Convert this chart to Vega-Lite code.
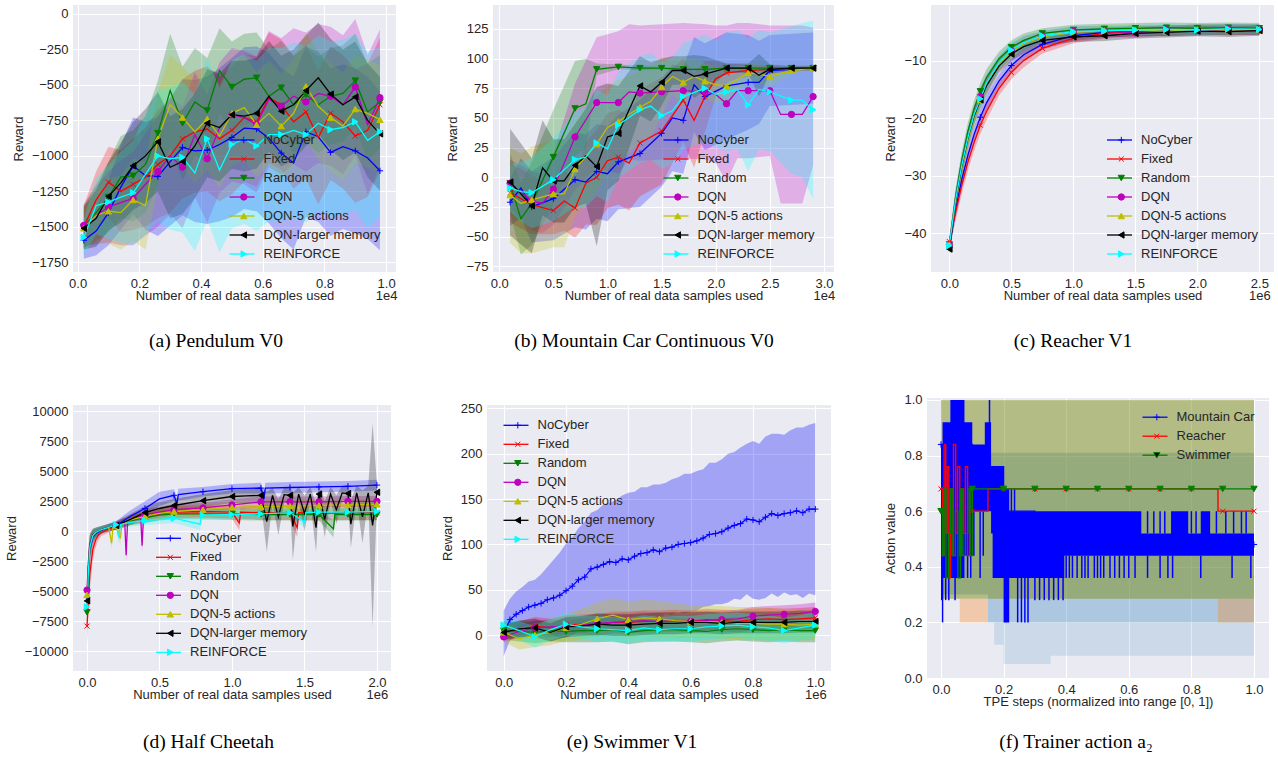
{
"$schema":"https://vega.github.io/schema/vega-lite/v6.json",
"background":"white",
"padding":{"left":5,"top":5,"right":0,"bottom":0},
"autosize":{"type":"pad"},
"bounds":"flush",
"spacing":393,
"config":{
 "font":"Liberation Sans",
 "view":{"fill":"#EAEAF2","stroke":null},
 "axis":{"domain":false,"ticks":false,"gridColor":"#ffffff","gridWidth":1.1,"gridOpacity":1,"labelFont":"Liberation Sans","labelFontSize":13,"labelColor":"#262626","labelPadding":5,"labelFlush":false,"labelOverlap":false,"titleFont":"Liberation Sans","titleFontSize":13,"titleFontWeight":"normal","titleColor":"#262626"},
 "axisX":{"titleY":23,"titleBaseline":"middle","labelLineHeight":12},
 "axisY":{"titlePadding":6},
 "legend":{"labelFont":"Liberation Sans","labelFontSize":13,"labelColor":"#262626","padding":0,"rowPadding":5,"symbolOpacity":1},
 "title":{"font":"Liberation Serif","fontSize":19.5,"fontWeight":"normal","color":"#000000","orient":"bottom","frame":"group","anchor":"middle"}
},
"resolve":{"scale":{"x":"independent","y":"independent","color":"independent","fill":"independent","stroke":"independent","shape":"independent"},"legend":{"color":"independent","fill":"independent","stroke":"independent","shape":"independent"}},
"datasets":{
"pa":[
{"s":"NoCyber","x":0.02,"y":-1595,"e":130},{"s":"NoCyber","x":0.06,"y":-1530,"e":170},{"s":"NoCyber","x":0.1,"y":-1400,"e":230},{"s":"NoCyber","x":0.14,"y":-1220,"e":300},{"s":"NoCyber","x":0.18,"y":-1070,"e":340},{"s":"NoCyber","x":0.22,"y":-1140,"e":380},{"s":"NoCyber","x":0.26,"y":-1145,"e":420},{"s":"NoCyber","x":0.3,"y":-1040,"e":450},{"s":"NoCyber","x":0.34,"y":-940,"e":480},{"s":"NoCyber","x":0.38,"y":-965,"e":500},{"s":"NoCyber","x":0.42,"y":-960,"e":520},{"s":"NoCyber","x":0.46,"y":-920,"e":540},{"s":"NoCyber","x":0.5,"y":-870,"e":560},{"s":"NoCyber","x":0.54,"y":-805,"e":570},{"s":"NoCyber","x":0.58,"y":-810,"e":580},{"s":"NoCyber","x":0.62,"y":-875,"e":600},{"s":"NoCyber","x":0.66,"y":-980,"e":600},{"s":"NoCyber","x":0.7,"y":-1050,"e":610},{"s":"NoCyber","x":0.74,"y":-830,"e":600},{"s":"NoCyber","x":0.78,"y":-865,"e":600},{"s":"NoCyber","x":0.82,"y":-975,"e":590},{"s":"NoCyber","x":0.86,"y":-935,"e":580},{"s":"NoCyber","x":0.9,"y":-965,"e":580},{"s":"NoCyber","x":0.94,"y":-1015,"e":570},{"s":"NoCyber","x":0.98,"y":-1105,"e":560},
{"s":"Fixed","x":0.02,"y":-1500,"e":150},{"s":"Fixed","x":0.06,"y":-1310,"e":200},{"s":"Fixed","x":0.1,"y":-1185,"e":250},{"s":"Fixed","x":0.14,"y":-1250,"e":290},{"s":"Fixed","x":0.18,"y":-1200,"e":320},{"s":"Fixed","x":0.22,"y":-1150,"e":350},{"s":"Fixed","x":0.26,"y":-1060,"e":380},{"s":"Fixed","x":0.3,"y":-1000,"e":400},{"s":"Fixed","x":0.34,"y":-880,"e":420},{"s":"Fixed","x":0.38,"y":-830,"e":430},{"s":"Fixed","x":0.42,"y":-810,"e":440},{"s":"Fixed","x":0.46,"y":-880,"e":440},{"s":"Fixed","x":0.5,"y":-820,"e":450},{"s":"Fixed","x":0.54,"y":-730,"e":450},{"s":"Fixed","x":0.58,"y":-760,"e":460},{"s":"Fixed","x":0.62,"y":-590,"e":460},{"s":"Fixed","x":0.66,"y":-640,"e":460},{"s":"Fixed","x":0.7,"y":-760,"e":470},{"s":"Fixed","x":0.74,"y":-690,"e":470},{"s":"Fixed","x":0.78,"y":-870,"e":470},{"s":"Fixed","x":0.82,"y":-700,"e":470},{"s":"Fixed","x":0.86,"y":-760,"e":470},{"s":"Fixed","x":0.9,"y":-860,"e":470},{"s":"Fixed","x":0.94,"y":-820,"e":470},{"s":"Fixed","x":0.98,"y":-640,"e":470},
{"s":"Random","x":0.02,"y":-1500,"e":150},{"s":"Random","x":0.06,"y":-1400,"e":200},{"s":"Random","x":0.1,"y":-1290,"e":250},{"s":"Random","x":0.14,"y":-1150,"e":290},{"s":"Random","x":0.18,"y":-1140,"e":320},{"s":"Random","x":0.22,"y":-1060,"e":340},{"s":"Random","x":0.26,"y":-840,"e":370},{"s":"Random","x":0.3,"y":-540,"e":400},{"s":"Random","x":0.34,"y":-770,"e":400},{"s":"Random","x":0.38,"y":-620,"e":380},{"s":"Random","x":0.42,"y":-680,"e":370},{"s":"Random","x":0.46,"y":-400,"e":300},{"s":"Random","x":0.5,"y":-515,"e":320},{"s":"Random","x":0.54,"y":-460,"e":320},{"s":"Random","x":0.58,"y":-450,"e":320},{"s":"Random","x":0.62,"y":-580,"e":330},{"s":"Random","x":0.66,"y":-520,"e":330},{"s":"Random","x":0.7,"y":-640,"e":340},{"s":"Random","x":0.74,"y":-570,"e":340},{"s":"Random","x":0.78,"y":-640,"e":340},{"s":"Random","x":0.82,"y":-580,"e":340},{"s":"Random","x":0.86,"y":-560,"e":340},{"s":"Random","x":0.9,"y":-470,"e":330},{"s":"Random","x":0.94,"y":-690,"e":340},{"s":"Random","x":0.98,"y":-620,"e":330},
{"s":"DQN","x":0.02,"y":-1490,"e":150},{"s":"DQN","x":0.06,"y":-1420,"e":200},{"s":"DQN","x":0.1,"y":-1360,"e":250},{"s":"DQN","x":0.14,"y":-1330,"e":300},{"s":"DQN","x":0.18,"y":-1300,"e":330},{"s":"DQN","x":0.22,"y":-1200,"e":360},{"s":"DQN","x":0.26,"y":-1110,"e":390},{"s":"DQN","x":0.3,"y":-1000,"e":410},{"s":"DQN","x":0.34,"y":-1080,"e":430},{"s":"DQN","x":0.38,"y":-850,"e":440},{"s":"DQN","x":0.42,"y":-1020,"e":450},{"s":"DQN","x":0.46,"y":-800,"e":460},{"s":"DQN","x":0.5,"y":-710,"e":470},{"s":"DQN","x":0.54,"y":-730,"e":470},{"s":"DQN","x":0.58,"y":-780,"e":480},{"s":"DQN","x":0.62,"y":-600,"e":480},{"s":"DQN","x":0.66,"y":-650,"e":480},{"s":"DQN","x":0.7,"y":-580,"e":480},{"s":"DQN","x":0.74,"y":-620,"e":490},{"s":"DQN","x":0.78,"y":-560,"e":490},{"s":"DQN","x":0.82,"y":-580,"e":490},{"s":"DQN","x":0.86,"y":-640,"e":490},{"s":"DQN","x":0.9,"y":-515,"e":480},{"s":"DQN","x":0.94,"y":-780,"e":490},{"s":"DQN","x":0.98,"y":-590,"e":480},
{"s":"DQN-5 actions","x":0.02,"y":-1510,"e":150},{"s":"DQN-5 actions","x":0.06,"y":-1420,"e":190},{"s":"DQN-5 actions","x":0.1,"y":-1390,"e":230},{"s":"DQN-5 actions","x":0.14,"y":-1400,"e":260},{"s":"DQN-5 actions","x":0.18,"y":-1310,"e":290},{"s":"DQN-5 actions","x":0.22,"y":-1350,"e":310},{"s":"DQN-5 actions","x":0.26,"y":-880,"e":330},{"s":"DQN-5 actions","x":0.3,"y":-640,"e":350},{"s":"DQN-5 actions","x":0.34,"y":-730,"e":360},{"s":"DQN-5 actions","x":0.38,"y":-830,"e":360},{"s":"DQN-5 actions","x":0.42,"y":-740,"e":360},{"s":"DQN-5 actions","x":0.46,"y":-860,"e":370},{"s":"DQN-5 actions","x":0.5,"y":-700,"e":370},{"s":"DQN-5 actions","x":0.54,"y":-660,"e":370},{"s":"DQN-5 actions","x":0.58,"y":-780,"e":370},{"s":"DQN-5 actions","x":0.62,"y":-700,"e":370},{"s":"DQN-5 actions","x":0.66,"y":-790,"e":370},{"s":"DQN-5 actions","x":0.7,"y":-700,"e":380},{"s":"DQN-5 actions","x":0.74,"y":-510,"e":380},{"s":"DQN-5 actions","x":0.78,"y":-650,"e":380},{"s":"DQN-5 actions","x":0.82,"y":-730,"e":380},{"s":"DQN-5 actions","x":0.86,"y":-790,"e":380},{"s":"DQN-5 actions","x":0.9,"y":-670,"e":380},{"s":"DQN-5 actions","x":0.94,"y":-700,"e":380},{"s":"DQN-5 actions","x":0.98,"y":-745,"e":380},
{"s":"DQN-larger memory","x":0.02,"y":-1510,"e":150},{"s":"DQN-larger memory","x":0.06,"y":-1440,"e":200},{"s":"DQN-larger memory","x":0.1,"y":-1285,"e":240},{"s":"DQN-larger memory","x":0.14,"y":-1190,"e":280},{"s":"DQN-larger memory","x":0.18,"y":-1070,"e":310},{"s":"DQN-larger memory","x":0.22,"y":-1000,"e":330},{"s":"DQN-larger memory","x":0.26,"y":-900,"e":350},{"s":"DQN-larger memory","x":0.3,"y":-1080,"e":360},{"s":"DQN-larger memory","x":0.34,"y":-1040,"e":370},{"s":"DQN-larger memory","x":0.38,"y":-930,"e":370},{"s":"DQN-larger memory","x":0.42,"y":-770,"e":380},{"s":"DQN-larger memory","x":0.46,"y":-800,"e":380},{"s":"DQN-larger memory","x":0.5,"y":-710,"e":380},{"s":"DQN-larger memory","x":0.54,"y":-720,"e":390},{"s":"DQN-larger memory","x":0.58,"y":-700,"e":390},{"s":"DQN-larger memory","x":0.62,"y":-580,"e":390},{"s":"DQN-larger memory","x":0.66,"y":-685,"e":390},{"s":"DQN-larger memory","x":0.7,"y":-640,"e":390},{"s":"DQN-larger memory","x":0.74,"y":-540,"e":390},{"s":"DQN-larger memory","x":0.78,"y":-450,"e":390},{"s":"DQN-larger memory","x":0.82,"y":-565,"e":390},{"s":"DQN-larger memory","x":0.86,"y":-640,"e":390},{"s":"DQN-larger memory","x":0.9,"y":-585,"e":390},{"s":"DQN-larger memory","x":0.94,"y":-750,"e":400},{"s":"DQN-larger memory","x":0.98,"y":-845,"e":400},
{"s":"REINFORCE","x":0.02,"y":-1575,"e":130},{"s":"REINFORCE","x":0.06,"y":-1350,"e":200},{"s":"REINFORCE","x":0.1,"y":-1325,"e":260},{"s":"REINFORCE","x":0.14,"y":-1290,"e":320},{"s":"REINFORCE","x":0.18,"y":-1260,"e":370},{"s":"REINFORCE","x":0.22,"y":-1130,"e":420},{"s":"REINFORCE","x":0.26,"y":-1000,"e":460},{"s":"REINFORCE","x":0.3,"y":-1020,"e":500},{"s":"REINFORCE","x":0.34,"y":-1010,"e":530},{"s":"REINFORCE","x":0.38,"y":-1120,"e":550},{"s":"REINFORCE","x":0.42,"y":-880,"e":570},{"s":"REINFORCE","x":0.46,"y":-1100,"e":580},{"s":"REINFORCE","x":0.5,"y":-920,"e":590},{"s":"REINFORCE","x":0.54,"y":-880,"e":600},{"s":"REINFORCE","x":0.58,"y":-930,"e":600},{"s":"REINFORCE","x":0.62,"y":-850,"e":610},{"s":"REINFORCE","x":0.66,"y":-850,"e":610},{"s":"REINFORCE","x":0.7,"y":-820,"e":620},{"s":"REINFORCE","x":0.74,"y":-850,"e":620},{"s":"REINFORCE","x":0.78,"y":-770,"e":620},{"s":"REINFORCE","x":0.82,"y":-815,"e":620},{"s":"REINFORCE","x":0.86,"y":-800,"e":620},{"s":"REINFORCE","x":0.9,"y":-760,"e":620},{"s":"REINFORCE","x":0.94,"y":-890,"e":620},{"s":"REINFORCE","x":0.98,"y":-830,"e":600}
],
"pb":[
{"s":"NoCyber","x":0.1,"y":-21,"e":20},{"s":"NoCyber","x":0.2,"y":-9,"e":25},{"s":"NoCyber","x":0.3,"y":-25,"e":30},{"s":"NoCyber","x":0.5,"y":-18,"e":35},{"s":"NoCyber","x":0.7,"y":-2,"e":40},{"s":"NoCyber","x":0.8,"y":-4,"e":40},{"s":"NoCyber","x":0.9,"y":5,"e":40},{"s":"NoCyber","x":1.0,"y":3,"e":40},{"s":"NoCyber","x":1.1,"y":13,"e":40},{"s":"NoCyber","x":1.3,"y":20,"e":45},{"s":"NoCyber","x":1.5,"y":37,"e":45},{"s":"NoCyber","x":1.6,"y":50,"e":45},{"s":"NoCyber","x":1.7,"y":48,"e":45},{"s":"NoCyber","x":1.8,"y":78,"e":40},{"s":"NoCyber","x":1.9,"y":68,"e":45},{"s":"NoCyber","x":2.1,"y":77,"e":45},{"s":"NoCyber","x":2.3,"y":80,"e":40},{"s":"NoCyber","x":2.4,"y":80,"e":35},{"s":"NoCyber","x":2.5,"y":90,"e":30},{"s":"NoCyber","x":2.7,"y":91,"e":30},{"s":"NoCyber","x":2.9,"y":92,"e":30},
{"s":"Fixed","x":0.1,"y":-13,"e":25},{"s":"Fixed","x":0.3,"y":-23,"e":25},{"s":"Fixed","x":0.5,"y":-28,"e":20},{"s":"Fixed","x":0.6,"y":-20,"e":25},{"s":"Fixed","x":0.7,"y":-26,"e":25},{"s":"Fixed","x":0.8,"y":-5,"e":35},{"s":"Fixed","x":0.9,"y":0,"e":40},{"s":"Fixed","x":1.0,"y":14,"e":40},{"s":"Fixed","x":1.1,"y":17,"e":40},{"s":"Fixed","x":1.2,"y":12,"e":40},{"s":"Fixed","x":1.3,"y":29,"e":45},{"s":"Fixed","x":1.5,"y":39,"e":45},{"s":"Fixed","x":1.6,"y":52,"e":40},{"s":"Fixed","x":1.7,"y":65,"e":35},{"s":"Fixed","x":1.8,"y":48,"e":40},{"s":"Fixed","x":1.9,"y":68,"e":30},{"s":"Fixed","x":2.0,"y":83,"e":15},{"s":"Fixed","x":2.1,"y":88,"e":8},{"s":"Fixed","x":2.3,"y":90,"e":5},{"s":"Fixed","x":2.5,"y":91,"e":3},{"s":"Fixed","x":2.7,"y":91,"e":2},{"s":"Fixed","x":2.9,"y":92,"e":2},
{"s":"Random","x":0.1,"y":-5,"e":25},{"s":"Random","x":0.2,"y":-35,"e":30},{"s":"Random","x":0.3,"y":-22,"e":35},{"s":"Random","x":0.5,"y":17,"e":40},{"s":"Random","x":0.7,"y":58,"e":40},{"s":"Random","x":0.8,"y":62,"e":38},{"s":"Random","x":0.9,"y":91,"e":5},{"s":"Random","x":1.1,"y":93,"e":2},{"s":"Random","x":1.3,"y":92,"e":2},{"s":"Random","x":1.5,"y":92,"e":1},{"s":"Random","x":1.7,"y":91,"e":1},{"s":"Random","x":1.9,"y":91,"e":1},{"s":"Random","x":2.1,"y":92,"e":1},{"s":"Random","x":2.3,"y":92,"e":1},{"s":"Random","x":2.5,"y":92,"e":1},{"s":"Random","x":2.7,"y":92,"e":1},{"s":"Random","x":2.9,"y":92,"e":1},
{"s":"DQN","x":0.1,"y":-5,"e":20},{"s":"DQN","x":0.3,"y":-20,"e":25},{"s":"DQN","x":0.4,"y":-22,"e":25},{"s":"DQN","x":0.5,"y":-10,"e":30},{"s":"DQN","x":0.7,"y":34,"e":45},{"s":"DQN","x":0.9,"y":63,"e":55},{"s":"DQN","x":1.1,"y":63,"e":60},{"s":"DQN","x":1.2,"y":72,"e":57},{"s":"DQN","x":1.3,"y":71,"e":57},{"s":"DQN","x":1.5,"y":72,"e":57},{"s":"DQN","x":1.7,"y":73,"e":57},{"s":"DQN","x":1.9,"y":72,"e":57},{"s":"DQN","x":2.0,"y":70,"e":58},{"s":"DQN","x":2.1,"y":62,"e":66},{"s":"DQN","x":2.2,"y":73,"e":57},{"s":"DQN","x":2.3,"y":73,"e":57},{"s":"DQN","x":2.5,"y":73,"e":55},{"s":"DQN","x":2.6,"y":53,"e":75},{"s":"DQN","x":2.7,"y":53,"e":75},{"s":"DQN","x":2.8,"y":53,"e":75},{"s":"DQN","x":2.9,"y":68,"e":58},
{"s":"DQN-5 actions","x":0.1,"y":-15,"e":40},{"s":"DQN-5 actions","x":0.2,"y":-22,"e":42},{"s":"DQN-5 actions","x":0.3,"y":-19,"e":45},{"s":"DQN-5 actions","x":0.5,"y":-14,"e":45},{"s":"DQN-5 actions","x":0.6,"y":-14,"e":45},{"s":"DQN-5 actions","x":0.7,"y":7,"e":40},{"s":"DQN-5 actions","x":0.9,"y":28,"e":40},{"s":"DQN-5 actions","x":1.0,"y":42,"e":35},{"s":"DQN-5 actions","x":1.1,"y":47,"e":35},{"s":"DQN-5 actions","x":1.3,"y":59,"e":30},{"s":"DQN-5 actions","x":1.4,"y":64,"e":30},{"s":"DQN-5 actions","x":1.5,"y":76,"e":25},{"s":"DQN-5 actions","x":1.6,"y":85,"e":15},{"s":"DQN-5 actions","x":1.7,"y":80,"e":20},{"s":"DQN-5 actions","x":1.8,"y":85,"e":15},{"s":"DQN-5 actions","x":1.9,"y":81,"e":15},{"s":"DQN-5 actions","x":2.0,"y":78,"e":15},{"s":"DQN-5 actions","x":2.1,"y":77,"e":15},{"s":"DQN-5 actions","x":2.3,"y":88,"e":8},{"s":"DQN-5 actions","x":2.4,"y":87,"e":8},{"s":"DQN-5 actions","x":2.5,"y":85,"e":8},{"s":"DQN-5 actions","x":2.7,"y":90,"e":3},{"s":"DQN-5 actions","x":2.9,"y":92,"e":2},
{"s":"DQN-larger memory","x":0.1,"y":-4,"e":45},{"s":"DQN-larger memory","x":0.3,"y":-24,"e":40},{"s":"DQN-larger memory","x":0.4,"y":8,"e":40},{"s":"DQN-larger memory","x":0.5,"y":-3,"e":35},{"s":"DQN-larger memory","x":0.6,"y":-3,"e":35},{"s":"DQN-larger memory","x":0.7,"y":10,"e":35},{"s":"DQN-larger memory","x":0.8,"y":18,"e":40},{"s":"DQN-larger memory","x":0.9,"y":9,"e":67},{"s":"DQN-larger memory","x":1.0,"y":34,"e":45},{"s":"DQN-larger memory","x":1.1,"y":37,"e":40},{"s":"DQN-larger memory","x":1.3,"y":77,"e":25},{"s":"DQN-larger memory","x":1.4,"y":72,"e":25},{"s":"DQN-larger memory","x":1.5,"y":80,"e":20},{"s":"DQN-larger memory","x":1.6,"y":90,"e":12},{"s":"DQN-larger memory","x":1.7,"y":90,"e":12},{"s":"DQN-larger memory","x":1.8,"y":85,"e":18},{"s":"DQN-larger memory","x":1.9,"y":87,"e":15},{"s":"DQN-larger memory","x":2.1,"y":92,"e":4},{"s":"DQN-larger memory","x":2.3,"y":92,"e":4},{"s":"DQN-larger memory","x":2.4,"y":86,"e":18},{"s":"DQN-larger memory","x":2.5,"y":91,"e":4},{"s":"DQN-larger memory","x":2.7,"y":92,"e":2},{"s":"DQN-larger memory","x":2.9,"y":92,"e":2},
{"s":"REINFORCE","x":0.1,"y":-9,"e":20},{"s":"REINFORCE","x":0.2,"y":-12,"e":25},{"s":"REINFORCE","x":0.3,"y":-13,"e":30},{"s":"REINFORCE","x":0.5,"y":-2,"e":35},{"s":"REINFORCE","x":0.7,"y":15,"e":40},{"s":"REINFORCE","x":0.8,"y":17,"e":42},{"s":"REINFORCE","x":0.9,"y":29,"e":45},{"s":"REINFORCE","x":1.0,"y":24,"e":45},{"s":"REINFORCE","x":1.1,"y":44,"e":45},{"s":"REINFORCE","x":1.3,"y":57,"e":45},{"s":"REINFORCE","x":1.4,"y":60,"e":45},{"s":"REINFORCE","x":1.5,"y":52,"e":45},{"s":"REINFORCE","x":1.6,"y":56,"e":45},{"s":"REINFORCE","x":1.7,"y":68,"e":45},{"s":"REINFORCE","x":1.9,"y":75,"e":45},{"s":"REINFORCE","x":2.0,"y":70,"e":45},{"s":"REINFORCE","x":2.1,"y":72,"e":50},{"s":"REINFORCE","x":2.2,"y":74,"e":50},{"s":"REINFORCE","x":2.3,"y":61,"e":56},{"s":"REINFORCE","x":2.4,"y":74,"e":50},{"s":"REINFORCE","x":2.5,"y":72,"e":50},{"s":"REINFORCE","x":2.7,"y":65,"e":62},{"s":"REINFORCE","x":2.8,"y":65,"e":65},{"s":"REINFORCE","x":2.9,"y":57,"e":75}
],
"pc":[
{"s":"NoCyber","x":0,"y":-42.5,"e":1},{"s":"NoCyber","x":0.05,"y":-35.9,"e":1.5},{"s":"NoCyber","x":0.1,"y":-30.7,"e":1.5},{"s":"NoCyber","x":0.15,"y":-26.4,"e":1.5},{"s":"NoCyber","x":0.2,"y":-22.8,"e":1.5},{"s":"NoCyber","x":0.25,"y":-19.8,"e":1.5},{"s":"NoCyber","x":0.3,"y":-17.3,"e":1.5},{"s":"NoCyber","x":0.4,"y":-13.5,"e":1.2},{"s":"NoCyber","x":0.5,"y":-10.8,"e":1.2},{"s":"NoCyber","x":0.6,"y":-8.9,"e":1.2},{"s":"NoCyber","x":0.75,"y":-7.1,"e":0.9},{"s":"NoCyber","x":1,"y":-5.6,"e":0.9},{"s":"NoCyber","x":1.25,"y":-5.0,"e":0.9},{"s":"NoCyber","x":1.5,"y":-4.7,"e":0.9},{"s":"NoCyber","x":1.75,"y":-4.8,"e":0.9},{"s":"NoCyber","x":2,"y":-4.5,"e":0.9},{"s":"NoCyber","x":2.25,"y":-4.6,"e":0.9},{"s":"NoCyber","x":2.5,"y":-4.5,"e":0.9},
{"s":"Fixed","x":0,"y":-41.5,"e":1},{"s":"Fixed","x":0.05,"y":-36.4,"e":1.5},{"s":"Fixed","x":0.1,"y":-31.7,"e":1.5},{"s":"Fixed","x":0.15,"y":-27.6,"e":1.5},{"s":"Fixed","x":0.2,"y":-24.2,"e":1.5},{"s":"Fixed","x":0.25,"y":-21.2,"e":1.5},{"s":"Fixed","x":0.3,"y":-18.8,"e":1.5},{"s":"Fixed","x":0.4,"y":-14.8,"e":1.2},{"s":"Fixed","x":0.5,"y":-12.0,"e":1.2},{"s":"Fixed","x":0.6,"y":-9.9,"e":1.2},{"s":"Fixed","x":0.75,"y":-7.8,"e":0.9},{"s":"Fixed","x":1,"y":-6.0,"e":0.9},{"s":"Fixed","x":1.25,"y":-5.2,"e":0.9},{"s":"Fixed","x":1.5,"y":-4.8,"e":0.9},{"s":"Fixed","x":1.75,"y":-4.7,"e":0.9},{"s":"Fixed","x":2,"y":-4.6,"e":0.9},{"s":"Fixed","x":2.25,"y":-4.5,"e":0.9},{"s":"Fixed","x":2.5,"y":-4.6,"e":0.9},
{"s":"Random","x":0,"y":-42,"e":1},{"s":"Random","x":0.05,"y":-33.7,"e":1.5},{"s":"Random","x":0.1,"y":-27.3,"e":1.5},{"s":"Random","x":0.15,"y":-22.2,"e":1.5},{"s":"Random","x":0.2,"y":-18.3,"e":1.5},{"s":"Random","x":0.25,"y":-15.3,"e":1.5},{"s":"Random","x":0.3,"y":-12.9,"e":1.5},{"s":"Random","x":0.4,"y":-9.6,"e":1.2},{"s":"Random","x":0.5,"y":-7.6,"e":1.2},{"s":"Random","x":0.6,"y":-6.4,"e":1.2},{"s":"Random","x":0.75,"y":-5.2,"e":0.9},{"s":"Random","x":1,"y":-4.6,"e":0.9},{"s":"Random","x":1.25,"y":-4.4,"e":0.9},{"s":"Random","x":1.5,"y":-4.3,"e":0.9},{"s":"Random","x":1.75,"y":-4.2,"e":0.9},{"s":"Random","x":2,"y":-4.3,"e":0.9},{"s":"Random","x":2.25,"y":-4.2,"e":0.9},{"s":"Random","x":2.5,"y":-4.3,"e":0.9},
{"s":"DQN","x":0,"y":-42,"e":1},{"s":"DQN","x":0.05,"y":-34.3,"e":1.5},{"s":"DQN","x":0.1,"y":-28.2,"e":1.5},{"s":"DQN","x":0.15,"y":-23.3,"e":1.5},{"s":"DQN","x":0.2,"y":-19.4,"e":1.5},{"s":"DQN","x":0.25,"y":-16.2,"e":1.5},{"s":"DQN","x":0.3,"y":-13.9,"e":1.5},{"s":"DQN","x":0.4,"y":-10.4,"e":1.2},{"s":"DQN","x":0.5,"y":-8.2,"e":1.2},{"s":"DQN","x":0.6,"y":-6.9,"e":1.2},{"s":"DQN","x":0.75,"y":-5.7,"e":0.9},{"s":"DQN","x":1,"y":-4.9,"e":0.9},{"s":"DQN","x":1.25,"y":-4.8,"e":0.9},{"s":"DQN","x":1.5,"y":-5.1,"e":0.9},{"s":"DQN","x":1.75,"y":-4.6,"e":0.9},{"s":"DQN","x":2,"y":-4.7,"e":0.9},{"s":"DQN","x":2.25,"y":-4.5,"e":0.9},{"s":"DQN","x":2.5,"y":-4.6,"e":0.9},
{"s":"DQN-5 actions","x":0,"y":-42,"e":1},{"s":"DQN-5 actions","x":0.05,"y":-34.8,"e":1.5},{"s":"DQN-5 actions","x":0.1,"y":-28.8,"e":1.5},{"s":"DQN-5 actions","x":0.15,"y":-23.9,"e":1.5},{"s":"DQN-5 actions","x":0.2,"y":-19.9,"e":1.5},{"s":"DQN-5 actions","x":0.25,"y":-16.8,"e":1.5},{"s":"DQN-5 actions","x":0.3,"y":-14.2,"e":1.5},{"s":"DQN-5 actions","x":0.4,"y":-10.6,"e":1.2},{"s":"DQN-5 actions","x":0.5,"y":-8.4,"e":1.2},{"s":"DQN-5 actions","x":0.6,"y":-7.0,"e":1.2},{"s":"DQN-5 actions","x":0.75,"y":-5.8,"e":0.9},{"s":"DQN-5 actions","x":1,"y":-5.0,"e":0.9},{"s":"DQN-5 actions","x":1.25,"y":-4.7,"e":0.9},{"s":"DQN-5 actions","x":1.5,"y":-4.6,"e":0.9},{"s":"DQN-5 actions","x":1.75,"y":-4.8,"e":0.9},{"s":"DQN-5 actions","x":2,"y":-4.5,"e":0.9},{"s":"DQN-5 actions","x":2.25,"y":-4.6,"e":0.9},{"s":"DQN-5 actions","x":2.5,"y":-4.5,"e":0.9},
{"s":"DQN-larger memory","x":0,"y":-42.8,"e":1},{"s":"DQN-larger memory","x":0.05,"y":-34.6,"e":1.5},{"s":"DQN-larger memory","x":0.1,"y":-28.4,"e":1.5},{"s":"DQN-larger memory","x":0.15,"y":-23.5,"e":1.5},{"s":"DQN-larger memory","x":0.2,"y":-19.6,"e":1.5},{"s":"DQN-larger memory","x":0.25,"y":-16.8,"e":1.5},{"s":"DQN-larger memory","x":0.3,"y":-14.3,"e":1.5},{"s":"DQN-larger memory","x":0.4,"y":-10.9,"e":1.2},{"s":"DQN-larger memory","x":0.5,"y":-8.8,"e":1.2},{"s":"DQN-larger memory","x":0.6,"y":-7.5,"e":1.2},{"s":"DQN-larger memory","x":0.75,"y":-6.4,"e":0.9},{"s":"DQN-larger memory","x":1,"y":-5.8,"e":0.9},{"s":"DQN-larger memory","x":1.25,"y":-5.6,"e":0.9},{"s":"DQN-larger memory","x":1.5,"y":-5.2,"e":0.9},{"s":"DQN-larger memory","x":1.75,"y":-5.0,"e":0.9},{"s":"DQN-larger memory","x":2,"y":-4.8,"e":0.9},{"s":"DQN-larger memory","x":2.25,"y":-4.9,"e":0.9},{"s":"DQN-larger memory","x":2.5,"y":-4.7,"e":0.9},
{"s":"REINFORCE","x":0,"y":-42.2,"e":1},{"s":"REINFORCE","x":0.05,"y":-34.3,"e":1.5},{"s":"REINFORCE","x":0.1,"y":-28.2,"e":1.5},{"s":"REINFORCE","x":0.15,"y":-23.3,"e":1.5},{"s":"REINFORCE","x":0.2,"y":-19.3,"e":1.5},{"s":"REINFORCE","x":0.25,"y":-16.6,"e":1.5},{"s":"REINFORCE","x":0.3,"y":-13.8,"e":1.5},{"s":"REINFORCE","x":0.4,"y":-10.3,"e":1.2},{"s":"REINFORCE","x":0.5,"y":-8.1,"e":1.2},{"s":"REINFORCE","x":0.6,"y":-6.8,"e":1.2},{"s":"REINFORCE","x":0.75,"y":-5.6,"e":0.9},{"s":"REINFORCE","x":1,"y":-4.9,"e":0.9},{"s":"REINFORCE","x":1.25,"y":-4.7,"e":0.9},{"s":"REINFORCE","x":1.5,"y":-4.6,"e":0.9},{"s":"REINFORCE","x":1.75,"y":-4.5,"e":0.9},{"s":"REINFORCE","x":2,"y":-4.6,"e":0.9},{"s":"REINFORCE","x":2.25,"y":-4.4,"e":0.9},{"s":"REINFORCE","x":2.5,"y":-4.5,"e":0.9}
],
"pd":[
{"s":"NoCyber","x":0,"y":-5500,"e":1200},{"s":"NoCyber","x":0.01,"y":-3000,"e":1500},{"s":"NoCyber","x":0.02,"y":-1500,"e":1200},{"s":"NoCyber","x":0.04,"y":-500,"e":600},{"s":"NoCyber","x":0.06,"y":-200,"e":400},{"s":"NoCyber","x":0.1,"y":100,"e":300},{"s":"NoCyber","x":0.15,"y":300,"e":300},{"s":"NoCyber","x":0.2,"y":480,"e":350},{"s":"NoCyber","x":0.3,"y":1250,"e":500},{"s":"NoCyber","x":0.4,"y":1900,"e":600},{"s":"NoCyber","x":0.5,"y":2700,"e":600},{"s":"NoCyber","x":0.6,"y":3000,"e":500},{"s":"NoCyber","x":0.62,"y":2300,"e":500},{"s":"NoCyber","x":0.63,"y":3050,"e":500},{"s":"NoCyber","x":0.8,"y":3300,"e":400},{"s":"NoCyber","x":1.0,"y":3550,"e":400},{"s":"NoCyber","x":1.2,"y":3600,"e":450},{"s":"NoCyber","x":1.22,"y":2700,"e":450},{"s":"NoCyber","x":1.23,"y":3600,"e":450},{"s":"NoCyber","x":1.4,"y":3650,"e":450},{"s":"NoCyber","x":1.6,"y":3700,"e":450},{"s":"NoCyber","x":1.8,"y":3750,"e":450},{"s":"NoCyber","x":2.0,"y":3850,"e":450},
{"s":"Fixed","x":0,"y":-7900,"e":1500},{"s":"Fixed","x":0.01,"y":-5500,"e":1500},{"s":"Fixed","x":0.02,"y":-3500,"e":1300},{"s":"Fixed","x":0.04,"y":-1500,"e":900},{"s":"Fixed","x":0.06,"y":-700,"e":600},{"s":"Fixed","x":0.08,"y":-300,"e":400},{"s":"Fixed","x":0.1,"y":-100,"e":300},{"s":"Fixed","x":0.15,"y":200,"e":300},{"s":"Fixed","x":0.2,"y":450,"e":300},{"s":"Fixed","x":0.3,"y":900,"e":400},{"s":"Fixed","x":0.4,"y":1200,"e":450},{"s":"Fixed","x":0.5,"y":1450,"e":500},{"s":"Fixed","x":0.6,"y":1600,"e":500},{"s":"Fixed","x":0.8,"y":1650,"e":500},{"s":"Fixed","x":1.0,"y":1600,"e":550},{"s":"Fixed","x":1.05,"y":700,"e":600},{"s":"Fixed","x":1.06,"y":1600,"e":550},{"s":"Fixed","x":1.2,"y":1550,"e":600},{"s":"Fixed","x":1.4,"y":1550,"e":600},{"s":"Fixed","x":1.45,"y":300,"e":800},{"s":"Fixed","x":1.46,"y":1550,"e":600},{"s":"Fixed","x":1.6,"y":1500,"e":600},{"s":"Fixed","x":1.8,"y":1550,"e":600},{"s":"Fixed","x":2.0,"y":1550,"e":600},
{"s":"Random","x":0,"y":-6750,"e":1200},{"s":"Random","x":0.01,"y":-3500,"e":1200},{"s":"Random","x":0.02,"y":-1300,"e":900},{"s":"Random","x":0.04,"y":-300,"e":500},{"s":"Random","x":0.06,"y":-100,"e":400},{"s":"Random","x":0.1,"y":150,"e":300},{"s":"Random","x":0.15,"y":300,"e":300},{"s":"Random","x":0.2,"y":450,"e":300},{"s":"Random","x":0.3,"y":900,"e":400},{"s":"Random","x":0.4,"y":1150,"e":450},{"s":"Random","x":0.5,"y":1350,"e":450},{"s":"Random","x":0.6,"y":1450,"e":450},{"s":"Random","x":0.8,"y":1450,"e":450},{"s":"Random","x":1.0,"y":1450,"e":500},{"s":"Random","x":1.2,"y":1400,"e":500},{"s":"Random","x":1.4,"y":1400,"e":500},{"s":"Random","x":1.6,"y":1400,"e":500},{"s":"Random","x":1.7,"y":200,"e":700},{"s":"Random","x":1.71,"y":1400,"e":500},{"s":"Random","x":1.8,"y":1400,"e":500},{"s":"Random","x":2.0,"y":1400,"e":500},
{"s":"DQN","x":0,"y":-4900,"e":1000},{"s":"DQN","x":0.01,"y":-2500,"e":1200},{"s":"DQN","x":0.02,"y":-1000,"e":900},{"s":"DQN","x":0.04,"y":-300,"e":500},{"s":"DQN","x":0.06,"y":-100,"e":400},{"s":"DQN","x":0.1,"y":150,"e":300},{"s":"DQN","x":0.15,"y":300,"e":300},{"s":"DQN","x":0.2,"y":480,"e":300},{"s":"DQN","x":0.26,"y":800,"e":350},{"s":"DQN","x":0.27,"y":-2000,"e":600},{"s":"DQN","x":0.28,"y":850,"e":350},{"s":"DQN","x":0.3,"y":1000,"e":400},{"s":"DQN","x":0.37,"y":1250,"e":450},{"s":"DQN","x":0.38,"y":-1200,"e":600},{"s":"DQN","x":0.39,"y":1300,"e":450},{"s":"DQN","x":0.4,"y":1400,"e":450},{"s":"DQN","x":0.5,"y":1600,"e":450},{"s":"DQN","x":0.6,"y":1800,"e":450},{"s":"DQN","x":0.8,"y":1950,"e":450},{"s":"DQN","x":1.0,"y":2200,"e":450},{"s":"DQN","x":1.2,"y":2450,"e":450},{"s":"DQN","x":1.4,"y":2450,"e":450},{"s":"DQN","x":1.6,"y":2450,"e":450},{"s":"DQN","x":1.8,"y":2500,"e":450},{"s":"DQN","x":2.0,"y":2500,"e":450},
{"s":"DQN-5 actions","x":0,"y":-5300,"e":1000},{"s":"DQN-5 actions","x":0.01,"y":-2800,"e":1200},{"s":"DQN-5 actions","x":0.02,"y":-1200,"e":900},{"s":"DQN-5 actions","x":0.04,"y":-300,"e":500},{"s":"DQN-5 actions","x":0.06,"y":-100,"e":400},{"s":"DQN-5 actions","x":0.1,"y":150,"e":300},{"s":"DQN-5 actions","x":0.15,"y":300,"e":300},{"s":"DQN-5 actions","x":0.17,"y":-1000,"e":500},{"s":"DQN-5 actions","x":0.18,"y":400,"e":300},{"s":"DQN-5 actions","x":0.2,"y":480,"e":300},{"s":"DQN-5 actions","x":0.23,"y":-600,"e":500},{"s":"DQN-5 actions","x":0.24,"y":550,"e":300},{"s":"DQN-5 actions","x":0.3,"y":950,"e":400},{"s":"DQN-5 actions","x":0.4,"y":1250,"e":450},{"s":"DQN-5 actions","x":0.5,"y":1500,"e":450},{"s":"DQN-5 actions","x":0.6,"y":1650,"e":450},{"s":"DQN-5 actions","x":0.8,"y":1800,"e":450},{"s":"DQN-5 actions","x":1.0,"y":2000,"e":450},{"s":"DQN-5 actions","x":1.2,"y":2050,"e":500},{"s":"DQN-5 actions","x":1.4,"y":2100,"e":500},{"s":"DQN-5 actions","x":1.6,"y":2150,"e":500},{"s":"DQN-5 actions","x":1.8,"y":2200,"e":500},{"s":"DQN-5 actions","x":2.0,"y":2250,"e":500},
{"s":"DQN-larger memory","x":0,"y":-5800,"e":1200},{"s":"DQN-larger memory","x":0.01,"y":-3000,"e":1300},{"s":"DQN-larger memory","x":0.02,"y":-1200,"e":900},{"s":"DQN-larger memory","x":0.04,"y":-300,"e":500},{"s":"DQN-larger memory","x":0.06,"y":-100,"e":400},{"s":"DQN-larger memory","x":0.1,"y":150,"e":300},{"s":"DQN-larger memory","x":0.15,"y":320,"e":300},{"s":"DQN-larger memory","x":0.2,"y":480,"e":350},{"s":"DQN-larger memory","x":0.3,"y":1000,"e":450},{"s":"DQN-larger memory","x":0.4,"y":1550,"e":550},{"s":"DQN-larger memory","x":0.5,"y":1900,"e":550},{"s":"DQN-larger memory","x":0.6,"y":2150,"e":550},{"s":"DQN-larger memory","x":0.8,"y":2550,"e":550},{"s":"DQN-larger memory","x":1.0,"y":2900,"e":550},{"s":"DQN-larger memory","x":1.1,"y":2950,"e":600},{"s":"DQN-larger memory","x":1.2,"y":3000,"e":700},{"s":"DQN-larger memory","x":1.24,"y":800,"e":2500},{"s":"DQN-larger memory","x":1.28,"y":3000,"e":600},{"s":"DQN-larger memory","x":1.32,"y":1200,"e":1500},{"s":"DQN-larger memory","x":1.36,"y":3050,"e":600},{"s":"DQN-larger memory","x":1.4,"y":3000,"e":700},{"s":"DQN-larger memory","x":1.42,"y":400,"e":2800},{"s":"DQN-larger memory","x":1.46,"y":3100,"e":600},{"s":"DQN-larger memory","x":1.5,"y":1500,"e":1500},{"s":"DQN-larger memory","x":1.54,"y":3100,"e":600},{"s":"DQN-larger memory","x":1.58,"y":300,"e":2000},{"s":"DQN-larger memory","x":1.6,"y":3100,"e":700},{"s":"DQN-larger memory","x":1.64,"y":1000,"e":1500},{"s":"DQN-larger memory","x":1.68,"y":3100,"e":600},{"s":"DQN-larger memory","x":1.72,"y":1800,"e":1200},{"s":"DQN-larger memory","x":1.76,"y":3200,"e":600},{"s":"DQN-larger memory","x":1.8,"y":3150,"e":700},{"s":"DQN-larger memory","x":1.82,"y":600,"e":2000},{"s":"DQN-larger memory","x":1.86,"y":3200,"e":600},{"s":"DQN-larger memory","x":1.9,"y":1200,"e":2200},{"s":"DQN-larger memory","x":1.94,"y":3200,"e":600},{"s":"DQN-larger memory","x":1.97,"y":500,"e":8500},{"s":"DQN-larger memory","x":2.0,"y":3250,"e":700},
{"s":"REINFORCE","x":0,"y":-6300,"e":1000},{"s":"REINFORCE","x":0.01,"y":-3200,"e":1200},{"s":"REINFORCE","x":0.02,"y":-1300,"e":900},{"s":"REINFORCE","x":0.04,"y":-350,"e":500},{"s":"REINFORCE","x":0.06,"y":-100,"e":400},{"s":"REINFORCE","x":0.1,"y":150,"e":300},{"s":"REINFORCE","x":0.15,"y":320,"e":300},{"s":"REINFORCE","x":0.2,"y":550,"e":300},{"s":"REINFORCE","x":0.22,"y":-500,"e":500},{"s":"REINFORCE","x":0.23,"y":570,"e":300},{"s":"REINFORCE","x":0.3,"y":750,"e":350},{"s":"REINFORCE","x":0.4,"y":900,"e":400},{"s":"REINFORCE","x":0.5,"y":1000,"e":400},{"s":"REINFORCE","x":0.6,"y":1100,"e":400},{"s":"REINFORCE","x":0.78,"y":600,"e":500},{"s":"REINFORCE","x":0.79,"y":1350,"e":400},{"s":"REINFORCE","x":0.8,"y":1350,"e":400},{"s":"REINFORCE","x":1.0,"y":1400,"e":400},{"s":"REINFORCE","x":1.2,"y":1450,"e":400},{"s":"REINFORCE","x":1.4,"y":1550,"e":400},{"s":"REINFORCE","x":1.5,"y":800,"e":500},{"s":"REINFORCE","x":1.51,"y":1550,"e":400},{"s":"REINFORCE","x":1.6,"y":1600,"e":400},{"s":"REINFORCE","x":1.8,"y":1600,"e":400},{"s":"REINFORCE","x":2.0,"y":1650,"e":400}
],
"pe":[
{"s":"NoCyber","x":0,"y":2,"e":25},{"s":"NoCyber","x":0.02,"y":17,"e":23},{"s":"NoCyber","x":0.04,"y":23,"e":25},{"s":"NoCyber","x":0.06,"y":27,"e":26},{"s":"NoCyber","x":0.08,"y":31,"e":28},{"s":"NoCyber","x":0.1,"y":33,"e":28},{"s":"NoCyber","x":0.12,"y":35,"e":32},{"s":"NoCyber","x":0.14,"y":39,"e":36},{"s":"NoCyber","x":0.16,"y":41,"e":42},{"s":"NoCyber","x":0.18,"y":44,"e":47},{"s":"NoCyber","x":0.2,"y":49,"e":52},{"s":"NoCyber","x":0.22,"y":54,"e":54},{"s":"NoCyber","x":0.24,"y":61,"e":57},{"s":"NoCyber","x":0.26,"y":64,"e":61},{"s":"NoCyber","x":0.28,"y":73,"e":62},{"s":"NoCyber","x":0.3,"y":75,"e":63},{"s":"NoCyber","x":0.32,"y":78,"e":66},{"s":"NoCyber","x":0.34,"y":81,"e":65},{"s":"NoCyber","x":0.36,"y":80,"e":69},{"s":"NoCyber","x":0.38,"y":84,"e":70},{"s":"NoCyber","x":0.4,"y":83,"e":74},{"s":"NoCyber","x":0.42,"y":87,"e":71},{"s":"NoCyber","x":0.44,"y":90,"e":73},{"s":"NoCyber","x":0.46,"y":91,"e":72},{"s":"NoCyber","x":0.48,"y":94,"e":72},{"s":"NoCyber","x":0.5,"y":92,"e":74},{"s":"NoCyber","x":0.52,"y":96,"e":72},{"s":"NoCyber","x":0.54,"y":97,"e":75},{"s":"NoCyber","x":0.56,"y":100,"e":74},{"s":"NoCyber","x":0.58,"y":101,"e":77},{"s":"NoCyber","x":0.6,"y":102,"e":76},{"s":"NoCyber","x":0.62,"y":104,"e":77},{"s":"NoCyber","x":0.64,"y":107,"e":76},{"s":"NoCyber","x":0.66,"y":111,"e":79},{"s":"NoCyber","x":0.68,"y":112,"e":78},{"s":"NoCyber","x":0.7,"y":114,"e":80},{"s":"NoCyber","x":0.72,"y":118,"e":82},{"s":"NoCyber","x":0.74,"y":121,"e":81},{"s":"NoCyber","x":0.76,"y":123,"e":84},{"s":"NoCyber","x":0.78,"y":128,"e":83},{"s":"NoCyber","x":0.8,"y":127,"e":87},{"s":"NoCyber","x":0.82,"y":125,"e":86},{"s":"NoCyber","x":0.84,"y":130,"e":89},{"s":"NoCyber","x":0.86,"y":134,"e":88},{"s":"NoCyber","x":0.88,"y":132,"e":90},{"s":"NoCyber","x":0.9,"y":134,"e":87},{"s":"NoCyber","x":0.92,"y":135,"e":91},{"s":"NoCyber","x":0.94,"y":137,"e":92},{"s":"NoCyber","x":0.96,"y":135,"e":94},{"s":"NoCyber","x":0.98,"y":139,"e":93},{"s":"NoCyber","x":1.0,"y":139,"e":95},
{"s":"Fixed","x":0,"y":3,"e":8},{"s":"Fixed","x":0.05,"y":6,"e":9},{"s":"Fixed","x":0.1,"y":10,"e":10},{"s":"Fixed","x":0.15,"y":8,"e":10},{"s":"Fixed","x":0.2,"y":11,"e":11},{"s":"Fixed","x":0.25,"y":12,"e":11},{"s":"Fixed","x":0.3,"y":11,"e":12},{"s":"Fixed","x":0.35,"y":14,"e":12},{"s":"Fixed","x":0.4,"y":14,"e":12},{"s":"Fixed","x":0.45,"y":15,"e":12},{"s":"Fixed","x":0.5,"y":15,"e":12},{"s":"Fixed","x":0.55,"y":16,"e":12},{"s":"Fixed","x":0.6,"y":15,"e":12},{"s":"Fixed","x":0.65,"y":17,"e":12},{"s":"Fixed","x":0.7,"y":16,"e":12},{"s":"Fixed","x":0.75,"y":15,"e":12},{"s":"Fixed","x":0.8,"y":17,"e":12},{"s":"Fixed","x":0.85,"y":18,"e":12},{"s":"Fixed","x":0.9,"y":17,"e":12},{"s":"Fixed","x":0.95,"y":18,"e":12},{"s":"Fixed","x":1.0,"y":19,"e":12},
{"s":"Random","x":0,"y":5,"e":10},{"s":"Random","x":0.05,"y":4,"e":11},{"s":"Random","x":0.1,"y":3,"e":12},{"s":"Random","x":0.15,"y":5,"e":12},{"s":"Random","x":0.2,"y":4,"e":12},{"s":"Random","x":0.25,"y":5,"e":13},{"s":"Random","x":0.3,"y":5,"e":13},{"s":"Random","x":0.35,"y":6,"e":13},{"s":"Random","x":0.4,"y":3,"e":13},{"s":"Random","x":0.45,"y":5,"e":13},{"s":"Random","x":0.5,"y":6,"e":13},{"s":"Random","x":0.55,"y":6,"e":13},{"s":"Random","x":0.6,"y":5,"e":13},{"s":"Random","x":0.65,"y":4,"e":13},{"s":"Random","x":0.7,"y":6,"e":13},{"s":"Random","x":0.75,"y":7,"e":13},{"s":"Random","x":0.8,"y":6,"e":13},{"s":"Random","x":0.85,"y":5,"e":13},{"s":"Random","x":0.9,"y":6,"e":13},{"s":"Random","x":0.95,"y":5,"e":13},{"s":"Random","x":1.0,"y":5,"e":13},
{"s":"DQN","x":0,"y":-2,"e":6},{"s":"DQN","x":0.05,"y":4,"e":7},{"s":"DQN","x":0.1,"y":8,"e":8},{"s":"DQN","x":0.15,"y":9,"e":8},{"s":"DQN","x":0.2,"y":10,"e":9},{"s":"DQN","x":0.25,"y":11,"e":9},{"s":"DQN","x":0.3,"y":13,"e":9},{"s":"DQN","x":0.35,"y":14,"e":10},{"s":"DQN","x":0.4,"y":15,"e":10},{"s":"DQN","x":0.45,"y":16,"e":10},{"s":"DQN","x":0.5,"y":15,"e":10},{"s":"DQN","x":0.55,"y":16,"e":10},{"s":"DQN","x":0.6,"y":15,"e":10},{"s":"DQN","x":0.65,"y":16,"e":10},{"s":"DQN","x":0.7,"y":17,"e":10},{"s":"DQN","x":0.75,"y":18,"e":10},{"s":"DQN","x":0.8,"y":21,"e":10},{"s":"DQN","x":0.85,"y":22,"e":10},{"s":"DQN","x":0.9,"y":23,"e":10},{"s":"DQN","x":0.95,"y":24,"e":10},{"s":"DQN","x":1.0,"y":26,"e":10},
{"s":"DQN-5 actions","x":0,"y":3,"e":10},{"s":"DQN-5 actions","x":0.05,"y":-4,"e":12},{"s":"DQN-5 actions","x":0.1,"y":0,"e":13},{"s":"DQN-5 actions","x":0.15,"y":3,"e":14},{"s":"DQN-5 actions","x":0.2,"y":8,"e":15},{"s":"DQN-5 actions","x":0.25,"y":12,"e":17},{"s":"DQN-5 actions","x":0.3,"y":18,"e":18},{"s":"DQN-5 actions","x":0.35,"y":22,"e":19},{"s":"DQN-5 actions","x":0.4,"y":17,"e":20},{"s":"DQN-5 actions","x":0.45,"y":19,"e":20},{"s":"DQN-5 actions","x":0.5,"y":18,"e":20},{"s":"DQN-5 actions","x":0.55,"y":16,"e":19},{"s":"DQN-5 actions","x":0.6,"y":15,"e":18},{"s":"DQN-5 actions","x":0.65,"y":15,"e":18},{"s":"DQN-5 actions","x":0.7,"y":14,"e":18},{"s":"DQN-5 actions","x":0.75,"y":13,"e":18},{"s":"DQN-5 actions","x":0.8,"y":13,"e":18},{"s":"DQN-5 actions","x":0.85,"y":12,"e":18},{"s":"DQN-5 actions","x":0.9,"y":12,"e":17},{"s":"DQN-5 actions","x":0.95,"y":11,"e":17},{"s":"DQN-5 actions","x":1.0,"y":12,"e":17},
{"s":"DQN-larger memory","x":0,"y":3,"e":8},{"s":"DQN-larger memory","x":0.05,"y":7,"e":9},{"s":"DQN-larger memory","x":0.1,"y":8,"e":10},{"s":"DQN-larger memory","x":0.15,"y":3,"e":10},{"s":"DQN-larger memory","x":0.2,"y":9,"e":11},{"s":"DQN-larger memory","x":0.25,"y":10,"e":11},{"s":"DQN-larger memory","x":0.3,"y":12,"e":12},{"s":"DQN-larger memory","x":0.35,"y":11,"e":12},{"s":"DQN-larger memory","x":0.4,"y":11,"e":12},{"s":"DQN-larger memory","x":0.45,"y":12,"e":12},{"s":"DQN-larger memory","x":0.5,"y":13,"e":12},{"s":"DQN-larger memory","x":0.55,"y":13,"e":12},{"s":"DQN-larger memory","x":0.6,"y":14,"e":12},{"s":"DQN-larger memory","x":0.65,"y":14,"e":12},{"s":"DQN-larger memory","x":0.7,"y":13,"e":12},{"s":"DQN-larger memory","x":0.75,"y":14,"e":12},{"s":"DQN-larger memory","x":0.8,"y":14,"e":12},{"s":"DQN-larger memory","x":0.85,"y":14,"e":12},{"s":"DQN-larger memory","x":0.9,"y":14,"e":12},{"s":"DQN-larger memory","x":0.95,"y":15,"e":12},{"s":"DQN-larger memory","x":1.0,"y":15,"e":12},
{"s":"REINFORCE","x":0,"y":11,"e":8},{"s":"REINFORCE","x":0.05,"y":5,"e":10},{"s":"REINFORCE","x":0.1,"y":-2,"e":12},{"s":"REINFORCE","x":0.15,"y":6,"e":12},{"s":"REINFORCE","x":0.2,"y":12,"e":13},{"s":"REINFORCE","x":0.25,"y":9,"e":13},{"s":"REINFORCE","x":0.3,"y":7,"e":14},{"s":"REINFORCE","x":0.35,"y":6,"e":14},{"s":"REINFORCE","x":0.4,"y":5,"e":14},{"s":"REINFORCE","x":0.45,"y":8,"e":14},{"s":"REINFORCE","x":0.5,"y":6,"e":14},{"s":"REINFORCE","x":0.55,"y":7,"e":14},{"s":"REINFORCE","x":0.6,"y":7,"e":14},{"s":"REINFORCE","x":0.65,"y":9,"e":14},{"s":"REINFORCE","x":0.7,"y":10,"e":14},{"s":"REINFORCE","x":0.75,"y":11,"e":14},{"s":"REINFORCE","x":0.8,"y":9,"e":14},{"s":"REINFORCE","x":0.85,"y":8,"e":14},{"s":"REINFORCE","x":0.9,"y":5,"e":14},{"s":"REINFORCE","x":0.95,"y":8,"e":14},{"s":"REINFORCE","x":1.0,"y":11,"e":14}
],
"fb":[
{"s":"Mountain Car","x":0,"l":0.3,"h":0.81},{"s":"Mountain Car","x":0.15,"l":0.2,"h":0.81},{"s":"Mountain Car","x":1.0,"l":0.2,"h":0.81},
{"s":"Reacher","x":0,"l":0.285,"h":1},{"s":"Reacher","x":0.06,"l":0.2,"h":1},{"s":"Reacher","x":0.15,"l":0.285,"h":1},{"s":"Reacher","x":0.885,"l":0.2,"h":1},{"s":"Reacher","x":1.0,"l":0.2,"h":1},
{"s":"Swimmer","x":0,"l":0.285,"h":1},{"s":"Swimmer","x":1.0,"l":0.285,"h":1}
],
"fm":[
{"x":0.17,"l":0.12,"h":0.2},{"x":0.2,"l":0.05,"h":0.2},{"x":0.35,"l":0.08,"h":0.2},{"x":1.0,"l":0.08,"h":0.2}
],
"fv":[
{"x":0,"l":0.28,"h":0.84},{"x":0.005,"l":0.36,"h":0.92},{"x":0.03,"l":0.36,"h":1.0},{"x":0.075,"l":0.44,"h":0.92},{"x":0.1,"l":0.6,"h":0.84},{"x":0.14,"l":0.6,"h":0.92},{"x":0.16,"l":0.52,"h":0.76},{"x":0.165,"l":0.36,"h":0.76},{"x":0.2,"l":0.2,"h":0.68},{"x":0.218,"l":0.36,"h":0.6},{"x":0.394,"l":0.44,"h":0.6},{"x":0.64,"l":0.44,"h":0.52},{"x":0.735,"l":0.44,"h":0.6},{"x":0.79,"l":0.44,"h":0.52},{"x":0.83,"l":0.44,"h":0.6},{"x":0.86,"l":0.44,"h":0.52},{"x":1.0,"l":0.44,"h":0.52}
],
"fs":[
{"x":0.005,"l":0.2,"h":0.36},{"x":0.015,"l":0.28,"h":0.36},{"x":0.025,"l":0.28,"h":0.36},{"x":0.045,"l":0.28,"h":0.36},{"x":0.085,"l":0.36,"h":0.6},{"x":0.095,"l":0.36,"h":0.6},{"x":0.105,"l":0.44,"h":0.6},{"x":0.125,"l":0.36,"h":0.6},{"x":0.135,"l":0.44,"h":0.6},{"x":0.155,"l":0.84,"h":1.0},{"x":0.225,"l":0.6,"h":0.68},{"x":0.235,"l":0.6,"h":0.68},{"x":0.245,"l":0.2,"h":0.36},{"x":0.257,"l":0.2,"h":0.36},{"x":0.268,"l":0.2,"h":0.36},{"x":0.278,"l":0.2,"h":0.36},{"x":0.3,"l":0.28,"h":0.36},{"x":0.315,"l":0.28,"h":0.36},{"x":0.33,"l":0.28,"h":0.36},{"x":0.345,"l":0.28,"h":0.36},{"x":0.36,"l":0.28,"h":0.36},{"x":0.375,"l":0.28,"h":0.36},{"x":0.39,"l":0.28,"h":0.36},
{"x":0.4,"l":0.36,"h":0.44},{"x":0.41,"l":0.36,"h":0.44},{"x":0.42,"l":0.36,"h":0.44},{"x":0.435,"l":0.36,"h":0.44},{"x":0.45,"l":0.36,"h":0.44},{"x":0.46,"l":0.36,"h":0.44},{"x":0.47,"l":0.36,"h":0.44},{"x":0.49,"l":0.36,"h":0.44},{"x":0.5,"l":0.36,"h":0.44},{"x":0.51,"l":0.36,"h":0.44},{"x":0.52,"l":0.36,"h":0.44},{"x":0.54,"l":0.36,"h":0.44},{"x":0.555,"l":0.36,"h":0.44},{"x":0.57,"l":0.36,"h":0.44},{"x":0.585,"l":0.36,"h":0.44},{"x":0.6,"l":0.36,"h":0.44},{"x":0.62,"l":0.36,"h":0.44},{"x":0.66,"l":0.36,"h":0.44},{"x":0.7,"l":0.36,"h":0.44},{"x":0.725,"l":0.36,"h":0.44},{"x":0.74,"l":0.36,"h":0.44},{"x":0.83,"l":0.36,"h":0.44},{"x":0.93,"l":0.36,"h":0.44},{"x":0.99,"l":0.36,"h":0.44},
{"x":0.66,"l":0.52,"h":0.6},{"x":0.68,"l":0.52,"h":0.6},{"x":0.7,"l":0.52,"h":0.6},{"x":0.715,"l":0.52,"h":0.6},{"x":0.8,"l":0.52,"h":0.6},{"x":0.815,"l":0.52,"h":0.6},{"x":0.88,"l":0.52,"h":0.6},{"x":0.91,"l":0.52,"h":0.6},{"x":0.935,"l":0.52,"h":0.6},{"x":0.96,"l":0.52,"h":0.6},{"x":0.975,"l":0.52,"h":0.6}
],
"pf":[
{"s":"Mountain Car","x":0,"y":0.84},{"s":"Mountain Car","x":0.1,"y":0.76},{"s":"Mountain Car","x":0.2,"y":0.6},{"s":"Mountain Car","x":0.3,"y":0.48},{"s":"Mountain Car","x":0.4,"y":0.48},{"s":"Mountain Car","x":0.5,"y":0.48},{"s":"Mountain Car","x":0.6,"y":0.48},{"s":"Mountain Car","x":0.7,"y":0.48},{"s":"Mountain Car","x":0.8,"y":0.48},{"s":"Mountain Car","x":0.9,"y":0.48},{"s":"Mountain Car","x":1.0,"y":0.48},
{"s":"Reacher","x":0,"y":0.68},{"s":"Reacher","x":0.005,"y":0.44},{"s":"Reacher","x":0.01,"y":0.84},{"s":"Reacher","x":0.015,"y":0.52},{"s":"Reacher","x":0.02,"y":0.76},{"s":"Reacher","x":0.025,"y":0.36},{"s":"Reacher","x":0.03,"y":0.68},{"s":"Reacher","x":0.035,"y":0.44},{"s":"Reacher","x":0.04,"y":0.84},{"s":"Reacher","x":0.047,"y":0.52},{"s":"Reacher","x":0.053,"y":0.76},{"s":"Reacher","x":0.06,"y":0.44},{"s":"Reacher","x":0.066,"y":0.68},{"s":"Reacher","x":0.072,"y":0.52},{"s":"Reacher","x":0.078,"y":0.76},{"s":"Reacher","x":0.085,"y":0.44},{"s":"Reacher","x":0.092,"y":0.68},{"s":"Reacher","x":0.1,"y":0.6},{"s":"Reacher","x":0.15,"y":0.68},{"s":"Reacher","x":0.2,"y":0.68},{"s":"Reacher","x":0.3,"y":0.68},{"s":"Reacher","x":0.4,"y":0.68},{"s":"Reacher","x":0.5,"y":0.68},{"s":"Reacher","x":0.6,"y":0.68},{"s":"Reacher","x":0.7,"y":0.68},{"s":"Reacher","x":0.8,"y":0.68},{"s":"Reacher","x":0.885,"y":0.6},{"s":"Reacher","x":0.9,"y":0.6},{"s":"Reacher","x":1.0,"y":0.6},
{"s":"Swimmer","x":0,"y":0.6},{"s":"Swimmer","x":0.005,"y":0.44},{"s":"Swimmer","x":0.01,"y":0.68},{"s":"Swimmer","x":0.016,"y":0.36},{"s":"Swimmer","x":0.024,"y":0.52},{"s":"Swimmer","x":0.03,"y":0.68},{"s":"Swimmer","x":0.038,"y":0.44},{"s":"Swimmer","x":0.046,"y":0.6},{"s":"Swimmer","x":0.054,"y":0.36},{"s":"Swimmer","x":0.062,"y":0.68},{"s":"Swimmer","x":0.07,"y":0.44},{"s":"Swimmer","x":0.078,"y":0.52},{"s":"Swimmer","x":0.086,"y":0.68},{"s":"Swimmer","x":0.093,"y":0.44},{"s":"Swimmer","x":0.1,"y":0.68},{"s":"Swimmer","x":0.2,"y":0.68},{"s":"Swimmer","x":0.3,"y":0.68},{"s":"Swimmer","x":0.4,"y":0.68},{"s":"Swimmer","x":0.5,"y":0.68},{"s":"Swimmer","x":0.6,"y":0.68},{"s":"Swimmer","x":0.7,"y":0.68},{"s":"Swimmer","x":0.8,"y":0.68},{"s":"Swimmer","x":0.9,"y":0.68},{"s":"Swimmer","x":1.0,"y":0.68}
]
},
"vconcat":[
{"hconcat":[
{"width":323,"height":267,"data":{"name":"pa"},
 "title":{"text":"(a) Pendulum V0","dx":-18.5,"offset":30},
 "encoding":{
  "x":{"field":"x","type":"quantitative","scale":{"domain":[-0.015,1.032],"nice":false,"zero":false},"axis":{"title":"Number of real data samples used","values":[0,0.2,0.4,0.6,0.8,1],"format":".1f","labelExpr":"datum.value == 1 ? ['1.0', '1e4'] : datum.label"}},
  "y":{"field":"y","type":"quantitative","scale":{"domain":[-1818,63],"nice":false,"zero":false},"axis":{"title":"Reward","values":[-1750,-1500,-1250,-1000,-750,-500,-250,0],"format":"d"}}},
 "layer":[
  {"mark":{"type":"errorband","band":{"opacity":0.25}},"encoding":{"yError":{"field":"e"},"fill":{"field":"s","type":"nominal"}}},
  {"mark":{"type":"line","strokeWidth":1.3},"encoding":{"color":{"field":"s","type":"nominal","sort":["NoCyber","Fixed","Random","DQN","DQN-5 actions","DQN-larger memory","REINFORCE"],"scale":{"range":["#0000ff","#ff0000","#008000","#bf00bf","#bfbf00","#000000","#00ffff"]},"legend":{"orient":"none","legendX":162.5,"legendY":128.5,"title":null,"symbolType":"M-2.5,0H2.5","symbolSize":100,"symbolStrokeWidth":1.3,"labelOffset":15,"symbolOpacity":1}}}},
  {"transform":[{"filter":"abs((datum.x - 0.02)/0.08 - round((datum.x - 0.02)/0.08)) < 0.01"}],"mark":{"type":"point","filled":true,"opacity":1,"size":40,"strokeWidth":1},"encoding":{
   "shape":{"field":"s","type":"nominal","scale":{"domain":["NoCyber","Fixed","Random","DQN","DQN-5 actions","DQN-larger memory","REINFORCE"],"range":["M-1,0H1M0,-1V1","M-0.8,-0.8L0.8,0.8M-0.8,0.8L0.8,-0.8","triangle-down","circle","triangle-up","triangle-left","triangle-right"]},"legend":{"orient":"none","legendX":164.3,"legendY":128.5,"title":null,"symbolSize":40,"symbolStrokeWidth":1,"labelExpr":"' '","labelOpacity":0,"symbolOpacity":1}},
   "fill":{"field":"s","type":"nominal","scale":{"domain":["NoCyber","Fixed","Random","DQN","DQN-5 actions","DQN-larger memory","REINFORCE"],"range":["#0000ff","#ff0000","#008000","#bf00bf","#bfbf00","#000000","#00ffff"]}},
   "stroke":{"field":"s","type":"nominal","scale":{"domain":["NoCyber","Fixed","Random","DQN","DQN-5 actions","DQN-larger memory","REINFORCE"],"range":["#0000ff","#ff0000","#008000","#bf00bf","#bfbf00","#000000","#00ffff"]}}}}
 ]},
{"width":341,"height":267,"data":{"name":"pb"},
 "title":{"text":"(b) Mountain Car Continuous V0","dx":-19.5,"offset":30},
 "encoding":{
  "x":{"field":"x","type":"quantitative","scale":{"domain":[-0.058,3.093],"nice":false,"zero":false},"axis":{"title":"Number of real data samples used","values":[0,0.5,1,1.5,2,2.5,3],"format":".1f","labelExpr":"datum.value == 3 ? ['3.0', '1e4'] : datum.label"}},
  "y":{"field":"y","type":"quantitative","scale":{"domain":[-79.8,145.2],"nice":false,"zero":false},"axis":{"title":"Reward","values":[-75,-50,-25,0,25,50,75,100,125],"format":"d"}}},
 "layer":[
  {"mark":{"type":"errorband","band":{"opacity":0.25}},"encoding":{"yError":{"field":"e"},"fill":{"field":"s","type":"nominal"}}},
  {"mark":{"type":"line","strokeWidth":1.3},"encoding":{"color":{"field":"s","type":"nominal","sort":["NoCyber","Fixed","Random","DQN","DQN-5 actions","DQN-larger memory","REINFORCE"],"scale":{"range":["#0000ff","#ff0000","#008000","#bf00bf","#bfbf00","#000000","#00ffff"]},"legend":{"orient":"none","legendX":176.5,"legendY":128.5,"title":null,"symbolType":"M-2.5,0H2.5","symbolSize":100,"symbolStrokeWidth":1.3,"labelOffset":15,"symbolOpacity":1}}}},
  {"transform":[{"filter":"abs((datum.x*10 - 1)/2 - round((datum.x*10 - 1)/2)) < 0.01"}],"mark":{"type":"point","filled":true,"opacity":1,"size":40,"strokeWidth":1},"encoding":{
   "shape":{"field":"s","type":"nominal","scale":{"domain":["NoCyber","Fixed","Random","DQN","DQN-5 actions","DQN-larger memory","REINFORCE"],"range":["M-1,0H1M0,-1V1","M-0.8,-0.8L0.8,0.8M-0.8,0.8L0.8,-0.8","triangle-down","circle","triangle-up","triangle-left","triangle-right"]},"legend":{"orient":"none","legendX":178.3,"legendY":128.5,"title":null,"symbolSize":40,"symbolStrokeWidth":1,"labelExpr":"' '","labelOpacity":0,"symbolOpacity":1}},
   "fill":{"field":"s","type":"nominal","scale":{"domain":["NoCyber","Fixed","Random","DQN","DQN-5 actions","DQN-larger memory","REINFORCE"],"range":["#0000ff","#ff0000","#008000","#bf00bf","#bfbf00","#000000","#00ffff"]}},
   "stroke":{"field":"s","type":"nominal","scale":{"domain":["NoCyber","Fixed","Random","DQN","DQN-5 actions","DQN-larger memory","REINFORCE"],"range":["#0000ff","#ff0000","#008000","#bf00bf","#bfbf00","#000000","#00ffff"]}}}}
 ]},
{"width":343,"height":267,"data":{"name":"pc"},
 "title":{"text":"(c) Reacher V1","dx":-29.5,"offset":30},
 "encoding":{
  "x":{"field":"x","type":"quantitative","scale":{"domain":[-0.148,2.618],"nice":false,"zero":false},"axis":{"title":"Number of real data samples used","values":[0,0.5,1,1.5,2,2.5],"format":".1f","labelExpr":"datum.value == 2.5 ? ['2.5', '1e6'] : datum.label"}},
  "y":{"field":"y","type":"quantitative","scale":{"domain":[-46.8,-0.24],"nice":false,"zero":false},"axis":{"title":"Reward","values":[-40,-30,-20,-10],"format":"d"}}},
 "layer":[
  {"mark":{"type":"errorband","band":{"opacity":0.25}},"encoding":{"yError":{"field":"e"},"fill":{"field":"s","type":"nominal"}}},
  {"mark":{"type":"line","strokeWidth":1.3},"encoding":{"color":{"field":"s","type":"nominal","sort":["NoCyber","Fixed","Random","DQN","DQN-5 actions","DQN-larger memory","REINFORCE"],"scale":{"range":["#0000ff","#ff0000","#008000","#bf00bf","#bfbf00","#000000","#00ffff"]},"legend":{"orient":"none","legendX":182,"legendY":128.5,"title":null,"symbolType":"M-2.5,0H2.5","symbolSize":100,"symbolStrokeWidth":1.3,"labelOffset":15,"symbolOpacity":1}}}},
  {"transform":[{"filter":"abs(datum.x*4 - round(datum.x*4)) < 0.001"}],"mark":{"type":"point","filled":true,"opacity":1,"size":40,"strokeWidth":1},"encoding":{
   "shape":{"field":"s","type":"nominal","scale":{"domain":["NoCyber","Fixed","Random","DQN","DQN-5 actions","DQN-larger memory","REINFORCE"],"range":["M-1,0H1M0,-1V1","M-0.8,-0.8L0.8,0.8M-0.8,0.8L0.8,-0.8","triangle-down","circle","triangle-up","triangle-left","triangle-right"]},"legend":{"orient":"none","legendX":183.8,"legendY":128.5,"title":null,"symbolSize":40,"symbolStrokeWidth":1,"labelExpr":"' '","labelOpacity":0,"symbolOpacity":1}},
   "fill":{"field":"s","type":"nominal","scale":{"domain":["NoCyber","Fixed","Random","DQN","DQN-5 actions","DQN-larger memory","REINFORCE"],"range":["#0000ff","#ff0000","#008000","#bf00bf","#bfbf00","#000000","#00ffff"]}},
   "stroke":{"field":"s","type":"nominal","scale":{"domain":["NoCyber","Fixed","Random","DQN","DQN-5 actions","DQN-larger memory","REINFORCE"],"range":["#0000ff","#ff0000","#008000","#bf00bf","#bfbf00","#000000","#00ffff"]}}}}
 ]}
],"spacing":97,"bounds":"flush",
"resolve":{"scale":{"x":"independent","y":"independent","color":"independent","fill":"independent","stroke":"independent","shape":"independent"},"legend":{"color":"independent","fill":"independent","stroke":"independent","shape":"independent"}}},
{"hconcat":[
{"width":318,"height":266,"data":{"name":"pd"},
 "title":{"text":"(d) Half Cheetah","dx":-23.5,"offset":32},
 "encoding":{
  "x":{"field":"x","type":"quantitative","scale":{"domain":[-0.0966,2.097],"nice":false,"zero":false},"axis":{"title":"Number of real data samples used","values":[0,0.5,1,1.5,2],"format":".1f","labelExpr":"datum.value == 2 ? ['2.0', '1e6'] : datum.label"}},
  "y":{"field":"y","type":"quantitative","scale":{"domain":[-11642,10525],"nice":false,"zero":false},"axis":{"title":"Reward","values":[-10000,-7500,-5000,-2500,0,2500,5000,7500,10000],"format":"d"}}},
 "layer":[
  {"mark":{"type":"errorband","band":{"opacity":0.25}},"encoding":{"yError":{"field":"e"},"fill":{"field":"s","type":"nominal"}}},
  {"mark":{"type":"line","strokeWidth":1.3},"encoding":{"color":{"field":"s","type":"nominal","sort":["NoCyber","Fixed","Random","DQN","DQN-5 actions","DQN-larger memory","REINFORCE"],"scale":{"range":["#0000ff","#ff0000","#008000","#bf00bf","#bfbf00","#000000","#00ffff"]},"legend":{"orient":"none","legendX":89,"legendY":126.8,"title":null,"symbolType":"M-2.5,0H2.5","symbolSize":100,"symbolStrokeWidth":1.3,"labelOffset":15,"symbolOpacity":1}}}},
  {"transform":[{"filter":"abs(datum.x*5 - round(datum.x*5)) < 0.001"}],"mark":{"type":"point","filled":true,"opacity":1,"size":40,"strokeWidth":1},"encoding":{
   "shape":{"field":"s","type":"nominal","scale":{"domain":["NoCyber","Fixed","Random","DQN","DQN-5 actions","DQN-larger memory","REINFORCE"],"range":["M-1,0H1M0,-1V1","M-0.8,-0.8L0.8,0.8M-0.8,0.8L0.8,-0.8","triangle-down","circle","triangle-up","triangle-left","triangle-right"]},"legend":{"orient":"none","legendX":90.8,"legendY":126.8,"title":null,"symbolSize":40,"symbolStrokeWidth":1,"labelExpr":"' '","labelOpacity":0,"symbolOpacity":1}},
   "fill":{"field":"s","type":"nominal","scale":{"domain":["NoCyber","Fixed","Random","DQN","DQN-5 actions","DQN-larger memory","REINFORCE"],"range":["#0000ff","#ff0000","#008000","#bf00bf","#bfbf00","#000000","#00ffff"]}},
   "stroke":{"field":"s","type":"nominal","scale":{"domain":["NoCyber","Fixed","Random","DQN","DQN-5 actions","DQN-larger memory","REINFORCE"],"range":["#0000ff","#ff0000","#008000","#bf00bf","#bfbf00","#000000","#00ffff"]}}}}
 ]},
{"width":344,"height":266,"data":{"name":"pe"},
 "title":{"text":"(e) Swimmer V1","dx":-27,"offset":32},
 "encoding":{
  "x":{"field":"x","type":"quantitative","scale":{"domain":[-0.0536,1.0504],"nice":false,"zero":false},"axis":{"title":"Number of real data samples used","values":[0,0.2,0.4,0.6,0.8,1],"format":".1f","labelExpr":"datum.value == 1 ? ['1.0', '1e6'] : datum.label"}},
  "y":{"field":"y","type":"quantitative","scale":{"domain":[-39.6,253.8],"nice":false,"zero":false},"axis":{"title":"Reward","values":[0,50,100,150,200,250],"format":"d"}}},
 "layer":[
  {"mark":{"type":"errorband","band":{"opacity":0.3}},"encoding":{"yError":{"field":"e"},"fill":{"field":"s","type":"nominal"}}},
  {"mark":{"type":"line","strokeWidth":1.2},"encoding":{"color":{"field":"s","type":"nominal","sort":["NoCyber","Fixed","Random","DQN","DQN-5 actions","DQN-larger memory","REINFORCE"],"scale":{"range":["#0000ff","#ff0000","#008000","#bf00bf","#bfbf00","#000000","#00ffff"]},"legend":{"orient":"none","legendX":22.5,"legendY":13.8,"title":null,"symbolType":"M-2.5,0H2.5","symbolSize":100,"symbolStrokeWidth":1.3,"labelOffset":15,"symbolOpacity":1}}}},
  {"transform":[{"filter":"datum.s == 'NoCyber' || abs(datum.x*10 - round(datum.x*10)) < 0.001"}],"mark":{"type":"point","filled":true,"opacity":1,"size":40,"strokeWidth":1},"encoding":{
   "shape":{"field":"s","type":"nominal","scale":{"domain":["NoCyber","Fixed","Random","DQN","DQN-5 actions","DQN-larger memory","REINFORCE"],"range":["M-1,0H1M0,-1V1","M-0.8,-0.8L0.8,0.8M-0.8,0.8L0.8,-0.8","triangle-down","circle","triangle-up","triangle-left","triangle-right"]},"legend":{"orient":"none","legendX":24.3,"legendY":13.8,"title":null,"symbolSize":40,"symbolStrokeWidth":1,"labelExpr":"' '","labelOpacity":0,"symbolOpacity":1}},
   "fill":{"field":"s","type":"nominal","scale":{"domain":["NoCyber","Fixed","Random","DQN","DQN-5 actions","DQN-larger memory","REINFORCE"],"range":["#0000ff","#ff0000","#008000","#bf00bf","#bfbf00","#000000","#00ffff"]}},
   "stroke":{"field":"s","type":"nominal","scale":{"domain":["NoCyber","Fixed","Random","DQN","DQN-5 actions","DQN-larger memory","REINFORCE"],"range":["#0000ff","#ff0000","#008000","#bf00bf","#bfbf00","#000000","#00ffff"]}}}}
 ]},
{"width":342,"height":280,
 "title":{"text":"(f) Trainer action a₂","dx":-22,"offset":25},
 "encoding":{
  "x":{"field":"x","type":"quantitative","scale":{"domain":[-0.0447,1.048],"nice":false,"zero":false},"axis":{"title":"TPE steps (normalized into range [0, 1])","values":[0,0.2,0.4,0.6,0.8,1],"format":".1f"}},
  "y":{"field":"y","type":"quantitative","scale":{"domain":[0,1.007],"nice":false,"zero":false},"axis":{"title":"Action value","values":[0,0.2,0.4,0.6,0.8,1],"format":".1f"}}},
 "layer":[
  {"data":{"name":"fb"},"mark":{"type":"area","interpolate":"step-after","opacity":0.3},"encoding":{"y":{"field":"l","type":"quantitative"},"y2":{"field":"h"},"fill":{"field":"s","type":"nominal","scale":{"domain":["Mountain Car","Reacher","Swimmer"],"range":["#1f77b4","#ff7f0e","#2ca02c"]},"legend":null}}},
  {"data":{"name":"fm"},"mark":{"type":"area","interpolate":"step-after","opacity":0.15,"color":"#1f77b4"},"encoding":{"y":{"field":"l","type":"quantitative"},"y2":{"field":"h"}}},
  {"data":{"name":"fv"},"mark":{"type":"area","interpolate":"step-after","opacity":1,"color":"#0000ff"},"encoding":{"y":{"field":"l","type":"quantitative"},"y2":{"field":"h"}}},
  {"data":{"name":"fs"},"mark":{"type":"rule","color":"#0000ff","strokeWidth":1.5},"encoding":{"y":{"field":"l","type":"quantitative"},"y2":{"field":"h"}}},
  {"data":{"name":"pf"},"mark":{"type":"line","strokeWidth":1.4,"interpolate":"step-after"},"encoding":{"color":{"field":"s","type":"nominal","sort":["Mountain Car","Reacher","Swimmer"],"scale":{"range":["#0000ff","#ff0000","#008000"]},"legend":{"orient":"none","legendX":221.5,"legendY":12.7,"title":null,"symbolType":"M-2.5,0H2.5","symbolSize":100,"symbolStrokeWidth":1.3,"labelOffset":15,"labelLimit":95,"symbolOpacity":1}}}},
  {"data":{"name":"pf"},"transform":[{"filter":"abs(datum.x*10 - round(datum.x*10)) < 0.001"}],"mark":{"type":"point","filled":true,"opacity":1,"size":40,"strokeWidth":1},"encoding":{
   "shape":{"field":"s","type":"nominal","scale":{"domain":["Mountain Car","Reacher","Swimmer"],"range":["M-1,0H1M0,-1V1","M-0.8,-0.8L0.8,0.8M-0.8,0.8L0.8,-0.8","triangle-down"]},"legend":{"orient":"none","legendX":223.3,"legendY":12.7,"title":null,"symbolSize":40,"symbolStrokeWidth":1,"labelExpr":"' '","labelOpacity":0,"labelLimit":20,"symbolOpacity":1}},
   "fill":{"field":"s","type":"nominal","scale":{"domain":["Mountain Car","Reacher","Swimmer"],"range":["#0000ff","#ff0000","#008000"]}},
   "stroke":{"field":"s","type":"nominal","scale":{"domain":["Mountain Car","Reacher","Swimmer"],"range":["#0000ff","#ff0000","#008000"]}}}}
 ],
 "resolve":{"scale":{"fill":"independent"}}}
],"spacing":96,"center":true,"bounds":"flush",
"resolve":{"scale":{"x":"independent","y":"independent","color":"independent","fill":"independent","stroke":"independent","shape":"independent"},"legend":{"color":"independent","fill":"independent","stroke":"independent","shape":"independent"}}}
]
}
